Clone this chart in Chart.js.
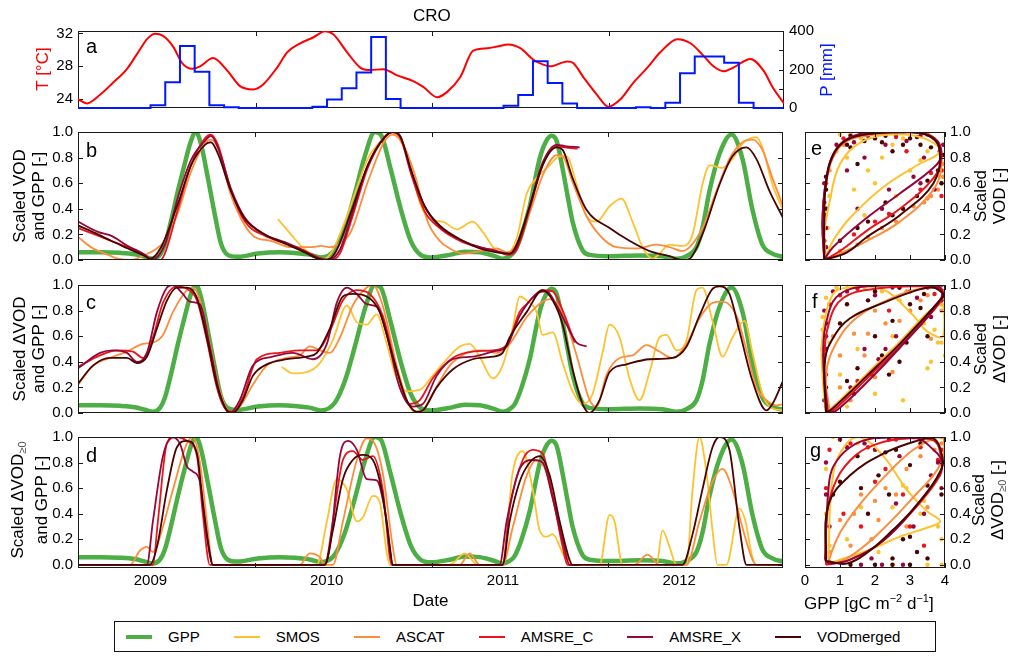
<!DOCTYPE html>
<html>
<head>
<meta charset="utf-8">
<script src="https://cdn.jsdelivr.net/npm/chart.js@4.4.1/dist/chart.umd.min.js"></script>
<style>
  body { margin: 0; background: #fff; }
  #fig { position: relative; width: 1011px; height: 658px; overflow: hidden; font-family: "Liberation Sans", Arial, sans-serif; color: #000; }
  canvas { position: absolute; }
  .txt { position: absolute; white-space: nowrap; line-height: 1; }
  .rot { position: absolute; white-space: nowrap; text-align: center; font-size: 17px; line-height: 19px; transform: translate(-50%, -50%) rotate(-90deg); }
  .rot sub { font-size: 11px; color: #555; vertical-align: -3px; }
  #legend { position: absolute; left: 114px; top: 621px; width: 809px; height: 29px; border: 1px solid #111; display: flex; align-items: center; padding-left: 11px; box-sizing: content-box; font-size: 15px; }
  #legend .it { display: flex; align-items: center; margin-right: 34px; }
  #legend .ln { width: 26px; margin-right: 16px; }
</style>
</head>
<body>
<div id="fig"></div>
<script>
// ---- data ----
const X_MIN = 2008.589, X_MAX = 2012.589;
const yearLabels = [2009, 2010, 2011, 2012];
const yearMarks = [2009.596, 2010.596, 2011.596];
const unitTicks = [0, 0.2, 0.4, 0.6, 0.8, 1.0];
const tTicks = [24, 28, 32];
const pTicks = [0, 100, 200, 300, 400];
const gppTicks = [0, 1, 2, 3, 4];
const names = ['GPP', 'SMOS', 'ASCAT', 'AMSRE_C', 'AMSRE_X', 'VODmerged'];

// panel a: temperature (degC) and monthly precipitation (mm)
const tData = [[2008.589,24.0],[2008.64,23.5],[2008.714,24.55],[2008.787,26.0],[2008.867,27.7],[2008.94,30.05],[2008.98,31.3],[2009.026,31.95],[2009.071,31.7],[2009.128,30.4],[2009.179,28.4],[2009.235,27.7],[2009.281,28.0],[2009.354,29.0],[2009.434,27.5],[2009.507,25.6],[2009.581,25.2],[2009.638,25.8],[2009.717,27.85],[2009.774,29.7],[2009.848,30.8],[2009.921,31.5],[2009.989,32.25],[2010.035,31.9],[2010.114,29.7],[2010.188,27.85],[2010.244,27.55],[2010.318,27.65],[2010.397,26.9],[2010.488,26.2],[2010.545,25.5],[2010.624,24.25],[2010.681,24.9],[2010.755,26.7],[2010.828,29.9],[2010.908,30.2],[2010.964,30.4],[2011.027,30.65],[2011.095,30.2],[2011.169,28.8],[2011.225,28.2],[2011.265,28.0],[2011.361,28.6],[2011.395,28.4],[2011.452,26.7],[2011.531,24.5],[2011.594,23.1],[2011.662,24.0],[2011.735,26.0],[2011.815,27.85],[2011.888,29.7],[2011.985,31.3],[2012.059,30.8],[2012.132,29.3],[2012.189,28.0],[2012.246,27.4],[2012.302,27.85],[2012.399,28.9],[2012.472,27.5],[2012.529,25.3],[2012.589,23.5]];
const pStart = 2008 + 7 / 12;
const pVals = [0,0,0,0,0, 14,134,322,188,14,4,0,0,0,0,0,7, 44,102,184,369,47,0,0,0,0,0,0,0, 12,68,243,130,24,0,0,0,0,4,0,27, 181,267,267,235,27,0,0,0];

// scaled GPP (same curve in b, c, d)
const gpp = [[2008.589,0.06],[2008.714,0.06],[2008.827,0.056],[2008.912,0.045],[2008.969,0.025],[2009.014,0.01],[2009.054,0.04],[2009.082,0.12],[2009.116,0.3],[2009.156,0.54],[2009.196,0.76],[2009.23,0.93],[2009.258,1.0],[2009.286,0.91],[2009.326,0.64],[2009.366,0.35],[2009.4,0.13],[2009.439,0.04],[2009.496,0.025],[2009.609,0.05],[2009.734,0.06],[2009.819,0.055],[2009.91,0.04],[2009.967,0.02],[2010.046,0.08],[2010.103,0.25],[2010.16,0.52],[2010.216,0.81],[2010.273,1.0],[2010.307,0.98],[2010.363,0.71],[2010.42,0.4],[2010.477,0.15],[2010.533,0.04],[2010.59,0.02],[2010.698,0.04],[2010.783,0.065],[2010.868,0.06],[2010.953,0.03],[2010.998,0.01],[2011.038,0.03],[2011.067,0.07],[2011.106,0.2],[2011.152,0.42],[2011.208,0.79],[2011.242,0.92],[2011.276,0.97],[2011.305,0.93],[2011.339,0.71],[2011.367,0.5],[2011.395,0.3],[2011.452,0.075],[2011.492,0.04],[2011.605,0.03],[2011.775,0.035],[2011.905,0.03],[2011.985,0.01],[2012.042,0.03],[2012.098,0.1],[2012.132,0.25],[2012.172,0.54],[2012.229,0.83],[2012.297,0.98],[2012.359,0.79],[2012.416,0.39],[2012.472,0.12],[2012.529,0.05],[2012.589,0.025]];

// panel b: scaled VOD
const smosB = [[2009.723,0.32],[2009.797,0.2],[2009.876,0.08],[2009.933,0.03],[2009.967,0.0],[2010.023,0.05],[2010.103,0.3],[2010.16,0.52],[2010.233,0.79],[2010.329,0.96],[2010.363,1.0],[2010.42,0.93],[2010.477,0.72],[2010.528,0.45],[2010.584,0.32],[2010.658,0.3],[2010.738,0.24],[2010.828,0.3],[2010.885,0.22],[2010.964,0.07],[2011.021,0.05],[2011.078,0.17],[2011.135,0.52],[2011.191,0.64],[2011.265,0.74],[2011.322,0.81],[2011.361,0.81],[2011.418,0.59],[2011.475,0.34],[2011.531,0.3],[2011.605,0.42],[2011.673,0.48],[2011.735,0.3],[2011.792,0.1],[2011.849,0.01],[2011.888,0.05],[2011.945,0.12],[2012.019,0.11],[2012.076,0.2],[2012.132,0.59],[2012.172,0.74],[2012.246,0.72],[2012.302,0.79],[2012.359,0.91],[2012.438,0.96],[2012.472,0.88],[2012.529,0.59],[2012.589,0.39]];
const ascatB = [[2008.589,0.18],[2008.663,0.1],[2008.742,0.05],[2008.816,0.01],[2008.889,0.0],[2008.969,0.04],[2009.026,0.08],[2009.082,0.15],[2009.156,0.37],[2009.23,0.69],[2009.309,0.91],[2009.343,0.94],[2009.383,0.87],[2009.456,0.51],[2009.536,0.27],[2009.592,0.18],[2009.683,0.15],[2009.797,0.1],[2009.91,0.1],[2009.967,0.11],[2010.023,0.1],[2010.063,0.12],[2010.137,0.22],[2010.233,0.61],[2010.329,0.93],[2010.375,0.98],[2010.431,0.91],[2010.499,0.67],[2010.573,0.3],[2010.641,0.15],[2010.698,0.09],[2010.772,0.05],[2010.868,0.07],[2010.964,0.09],[2011.021,0.06],[2011.078,0.12],[2011.152,0.37],[2011.225,0.66],[2011.305,0.82],[2011.339,0.81],[2011.395,0.61],[2011.475,0.34],[2011.565,0.17],[2011.645,0.1],[2011.758,0.09],[2011.871,0.12],[2011.945,0.1],[2012.019,0.07],[2012.059,0.1],[2012.132,0.25],[2012.212,0.54],[2012.285,0.79],[2012.359,0.92],[2012.416,0.94],[2012.472,0.86],[2012.529,0.64],[2012.589,0.42]];
const amsrecB = [[2008.589,0.25],[2008.702,0.19],[2008.776,0.15],[2008.872,0.1],[2008.969,0.04],[2009.014,0.0],[2009.054,0.0],[2009.082,0.05],[2009.156,0.4],[2009.23,0.74],[2009.309,0.95],[2009.343,0.98],[2009.383,0.9],[2009.456,0.55],[2009.536,0.3],[2009.649,0.19],[2009.762,0.13],[2009.876,0.07],[2009.95,0.02],[2010.018,0.0],[2010.075,0.05],[2010.142,0.32],[2010.233,0.72],[2010.329,0.96],[2010.375,1.0],[2010.42,0.95],[2010.477,0.68],[2010.556,0.38],[2010.641,0.25],[2010.772,0.14],[2010.868,0.1],[2010.964,0.07],[2011.027,0.04],[2011.078,0.08],[2011.152,0.4],[2011.225,0.74],[2011.305,0.89],[2011.35,0.88],[2011.424,0.87]];
const amsrexB = [[2008.589,0.3],[2008.702,0.22],[2008.776,0.19],[2008.872,0.11],[2008.969,0.04],[2009.003,0.0],[2009.082,0.12],[2009.156,0.49],[2009.23,0.78],[2009.309,0.93],[2009.343,0.97],[2009.383,0.88],[2009.456,0.56],[2009.536,0.33],[2009.649,0.2],[2009.762,0.14],[2009.876,0.07],[2009.961,0.01],[2010.001,0.0],[2010.075,0.08],[2010.142,0.35],[2010.233,0.74],[2010.329,0.96],[2010.375,1.0],[2010.42,0.96],[2010.477,0.7],[2010.556,0.42],[2010.641,0.26],[2010.772,0.15],[2010.868,0.1],[2010.964,0.07],[2011.038,0.05],[2011.078,0.1],[2011.152,0.42],[2011.225,0.76],[2011.305,0.9],[2011.35,0.89],[2011.435,0.88]];
const vodB = [[2008.589,0.27],[2008.702,0.2],[2008.776,0.15],[2008.872,0.09],[2008.969,0.03],[2008.997,0.01],[2009.06,0.1],[2009.156,0.44],[2009.23,0.74],[2009.309,0.9],[2009.343,0.92],[2009.383,0.83],[2009.456,0.54],[2009.536,0.32],[2009.649,0.2],[2009.762,0.13],[2009.876,0.06],[2009.95,0.01],[2009.989,0.0],[2010.046,0.05],[2010.137,0.37],[2010.233,0.74],[2010.329,0.96],[2010.375,1.0],[2010.42,0.96],[2010.477,0.71],[2010.556,0.42],[2010.641,0.27],[2010.772,0.15],[2010.868,0.09],[2010.964,0.06],[2011.038,0.05],[2011.078,0.12],[2011.152,0.42],[2011.225,0.74],[2011.305,0.88],[2011.339,0.86],[2011.395,0.64],[2011.475,0.39],[2011.605,0.25],[2011.718,0.15],[2011.832,0.07],[2011.945,0.03],[2012.019,0.0],[2012.059,0.01],[2012.132,0.2],[2012.229,0.59],[2012.302,0.81],[2012.382,0.88],[2012.438,0.79],[2012.512,0.54],[2012.589,0.33]];

// panel c: scaled delta VOD
const smosC = [[2009.745,0.36],[2009.808,0.31],[2009.887,0.32],[2009.961,0.39],[2010.035,0.57],[2010.114,0.84],[2010.171,0.71],[2010.227,0.69],[2010.284,0.77],[2010.341,0.54],[2010.397,0.27],[2010.454,0.17],[2010.528,0.18],[2010.601,0.29],[2010.681,0.42],[2010.755,0.52],[2010.811,0.54],[2010.868,0.44],[2010.942,0.27],[2010.998,0.37],[2011.055,0.66],[2011.095,0.91],[2011.135,0.88],[2011.191,0.79],[2011.225,0.61],[2011.282,0.63],[2011.339,0.39],[2011.395,0.17],[2011.452,0.07],[2011.509,0.15],[2011.565,0.47],[2011.605,0.69],[2011.662,0.59],[2011.718,0.27],[2011.775,0.1],[2011.832,0.32],[2011.888,0.59],[2011.928,0.61],[2011.985,0.49],[2012.042,0.57],[2012.098,0.96],[2012.132,0.98],[2012.189,0.72],[2012.246,0.44],[2012.302,0.59],[2012.37,0.72],[2012.416,0.47],[2012.472,0.15],[2012.512,0.05],[2012.589,0.02]];
const ascatC = [[2008.589,0.22],[2008.674,0.37],[2008.77,0.43],[2008.867,0.48],[2008.957,0.54],[2009.014,0.55],[2009.071,0.61],[2009.128,0.79],[2009.207,0.96],[2009.241,0.98],[2009.281,0.88],[2009.337,0.54],[2009.394,0.17],[2009.451,0.01],[2009.507,0.05],[2009.581,0.22],[2009.66,0.37],[2009.774,0.43],[2009.848,0.45],[2009.904,0.52],[2009.961,0.49],[2010.018,0.47],[2010.075,0.59],[2010.148,0.84],[2010.227,0.98],[2010.262,1.0],[2010.318,0.84],[2010.397,0.37],[2010.471,0.05],[2010.528,0.0],[2010.601,0.15],[2010.698,0.37],[2010.794,0.47],[2010.885,0.49],[2010.964,0.47],[2011.038,0.54],[2011.135,0.75],[2011.225,0.87],[2011.265,0.89],[2011.339,0.78],[2011.418,0.45],[2011.492,0.1],[2011.531,0.05],[2011.588,0.3],[2011.662,0.43],[2011.735,0.45],[2011.815,0.53],[2011.888,0.48],[2011.962,0.43],[2012.042,0.54],[2012.115,0.74],[2012.189,0.86],[2012.246,0.87],[2012.325,0.76],[2012.382,0.49],[2012.438,0.2],[2012.495,0.1],[2012.551,0.06],[2012.589,0.07]];
const amsrecC = [[2008.589,0.36],[2008.714,0.45],[2008.81,0.49],[2008.901,0.48],[2008.957,0.43],[2009.014,0.59],[2009.071,0.86],[2009.15,0.99],[2009.207,0.97],[2009.264,0.88],[2009.32,0.57],[2009.377,0.2],[2009.434,0.02],[2009.468,0.01],[2009.524,0.12],[2009.604,0.42],[2009.734,0.47],[2009.848,0.49],[2009.944,0.49],[2010.018,0.64],[2010.092,0.88],[2010.171,0.96],[2010.244,0.93],[2010.318,0.76],[2010.397,0.34],[2010.471,0.07],[2010.528,0.1],[2010.601,0.27],[2010.715,0.43],[2010.828,0.48],[2010.942,0.49],[2011.021,0.53],[2011.095,0.79],[2011.135,0.85],[2011.225,0.96],[2011.282,0.95],[2011.339,0.8],[2011.407,0.55]];
const amsrexC = [[2008.589,0.35],[2008.714,0.47],[2008.787,0.49],[2008.867,0.47],[2008.923,0.4],[2008.98,0.47],[2009.037,0.79],[2009.094,0.98],[2009.128,1.0],[2009.184,0.93],[2009.224,0.87],[2009.281,0.85],[2009.337,0.52],[2009.394,0.15],[2009.451,0.0],[2009.507,0.1],[2009.581,0.37],[2009.694,0.44],[2009.808,0.47],[2009.921,0.42],[2010.001,0.54],[2010.057,0.86],[2010.114,0.98],[2010.171,0.93],[2010.227,0.85],[2010.284,0.83],[2010.341,0.61],[2010.414,0.2],[2010.488,0.05],[2010.545,0.07],[2010.624,0.29],[2010.715,0.42],[2010.828,0.44],[2010.942,0.48],[2011.021,0.52],[2011.095,0.76],[2011.191,0.93],[2011.248,0.95],[2011.305,0.84],[2011.361,0.69],[2011.418,0.55],[2011.475,0.52]];
const vodC = [[2008.589,0.23],[2008.674,0.37],[2008.77,0.43],[2008.867,0.43],[2008.923,0.39],[2008.98,0.44],[2009.037,0.66],[2009.094,0.88],[2009.15,0.98],[2009.207,0.98],[2009.264,0.9],[2009.32,0.59],[2009.377,0.22],[2009.434,0.02],[2009.468,0.0],[2009.524,0.1],[2009.581,0.29],[2009.66,0.38],[2009.774,0.42],[2009.887,0.44],[2009.944,0.47],[2010.018,0.66],[2010.092,0.91],[2010.148,0.93],[2010.227,0.91],[2010.301,0.79],[2010.375,0.44],[2010.454,0.1],[2010.511,0.01],[2010.545,0.02],[2010.624,0.2],[2010.715,0.34],[2010.828,0.42],[2010.942,0.44],[2010.998,0.47],[2011.038,0.59],[2011.135,0.79],[2011.225,0.96],[2011.282,0.88],[2011.339,0.69],[2011.395,0.34],[2011.452,0.07],[2011.492,0.0],[2011.548,0.1],[2011.605,0.32],[2011.701,0.38],[2011.832,0.42],[2011.962,0.43],[2012.042,0.52],[2012.115,0.76],[2012.189,0.97],[2012.229,0.99],[2012.285,0.93],[2012.342,0.64],[2012.416,0.25],[2012.495,0.02],[2012.529,0.07],[2012.589,0.25]];

// panel d: scaled positive delta VOD
const smosD = [[2009.723,0],[2009.944,0],[2010.001,0.34],[2010.057,0.67],[2010.114,0.59],[2010.171,0.34],[2010.205,0.37],[2010.262,0.54],[2010.301,0.49],[2010.341,0.09],[2010.358,0],[2010.698,0],[2010.783,0.09],[2010.857,0],[2010.998,0],[2011.055,0.72],[2011.112,0.89],[2011.169,0.59],[2011.208,0.27],[2011.248,0.22],[2011.282,0.24],[2011.339,0.09],[2011.378,0],[2011.548,0],[2011.605,0.39],[2011.633,0.34],[2011.679,0],[2011.871,0],[2011.905,0.27],[2011.945,0.14],[2011.985,0],[2012.042,0],[2012.076,0.59],[2012.115,1.0],[2012.155,0.72],[2012.189,0.27],[2012.217,0],[2012.268,0],[2012.342,0.44],[2012.376,0.34],[2012.41,0.09],[2012.433,0],[2012.589,0]];
const ascatD = [[2008.589,0],[2008.884,0],[2008.94,0.11],[2008.98,0.14],[2009.014,0.1],[2009.054,0.22],[2009.128,0.59],[2009.207,0.95],[2009.241,1.0],[2009.281,0.8],[2009.32,0.34],[2009.354,0],[2009.848,0],[2009.904,0.09],[2009.961,0.06],[2009.989,0],[2010.035,0],[2010.092,0.34],[2010.171,0.82],[2010.227,0.99],[2010.262,0.97],[2010.318,0.72],[2010.375,0.14],[2010.397,0],[2010.755,0],[2010.811,0.09],[2010.868,0],[2010.998,0],[2011.055,0.29],[2011.135,0.7],[2011.191,0.82],[2011.248,0.72],[2011.305,0.39],[2011.361,0.09],[2011.39,0],[2011.747,0],[2011.82,0.08],[2011.888,0],[2012.042,0],[2012.115,0.34],[2012.189,0.65],[2012.246,0.75],[2012.302,0.59],[2012.359,0.29],[2012.416,0.04],[2012.438,0],[2012.589,0]];
const amsrecD = [[2008.589,0],[2009.014,0],[2009.043,0.35],[2009.094,0.95],[2009.15,1.0],[2009.207,0.97],[2009.264,0.85],[2009.298,0.39],[2009.337,0],[2009.989,0],[2010.035,0.34],[2010.092,0.82],[2010.148,0.89],[2010.205,0.82],[2010.262,0.85],[2010.318,0.59],[2010.369,0],[2010.998,0],[2011.038,0.44],[2011.112,0.82],[2011.169,0.9],[2011.225,0.87],[2011.282,0.54],[2011.339,0.14],[2011.367,0],[2011.424,0]];
const amsrexD = [[2008.589,0],[2008.98,0],[2009.014,0.34],[2009.071,0.85],[2009.122,1.0],[2009.167,0.95],[2009.207,0.77],[2009.241,0.73],[2009.281,0.65],[2009.32,0.22],[2009.354,0],[2009.989,0],[2010.018,0.14],[2010.075,0.85],[2010.12,0.97],[2010.171,0.9],[2010.227,0.67],[2010.284,0.66],[2010.341,0.34],[2010.375,0],[2010.981,0],[2011.021,0.34],[2011.095,0.75],[2011.169,0.82],[2011.225,0.8],[2011.282,0.52],[2011.339,0.19],[2011.378,0],[2011.435,0]];
const vodD = [[2008.589,0],[2008.997,0],[2009.037,0.14],[2009.094,0.59],[2009.15,0.92],[2009.207,0.97],[2009.264,0.87],[2009.298,0.47],[2009.337,0.09],[2009.354,0],[2009.989,0],[2010.035,0.27],[2010.092,0.67],[2010.148,0.82],[2010.205,0.86],[2010.262,0.82],[2010.318,0.54],[2010.358,0.14],[2010.375,0],[2010.998,0],[2011.038,0.34],[2011.095,0.65],[2011.152,0.8],[2011.208,0.85],[2011.265,0.7],[2011.322,0.34],[2011.378,0.04],[2011.395,0],[2012.019,0],[2012.076,0.24],[2012.132,0.59],[2012.189,0.92],[2012.229,1.0],[2012.285,0.9],[2012.342,0.29],[2012.382,0],[2012.589,0]];

// panels e-g: GPP (gC m-2 d-1) against scaled VOD, smoothed loops and samples
const loopE = {
  SMOS: [[0.6,0.02],[0.55,0.2],[0.7,0.45],[1.0,0.75],[1.6,0.92],[2.5,0.98],[3.4,0.95],[3.85,0.85],[3.2,0.74],[2.24,0.57],[1.29,0.33],[0.8,0.15],[0.6,0.02]],
  ASCAT: [[0.6,0],[0.5,0.3],[0.6,0.6],[0.8,0.8],[1.2,0.93],[2,0.98],[3,1.0],[3.7,0.95],[3.9,0.75],[3.67,0.55],[2.71,0.3],[1.77,0.15],[1.0,0.05],[0.6,0]],
  AMSRE_C: [[0.55,0],[0.5,0.3],[0.6,0.6],[0.85,0.84],[1.3,0.95],[2,0.99],[3,1.0],[3.7,0.95],[3.9,0.8],[3.67,0.64],[2.71,0.4],[1.77,0.23],[1.0,0.07],[0.55,0]],
  AMSRE_X: [[0.55,0],[0.5,0.3],[0.6,0.62],[0.85,0.85],[1.3,0.96],[2,1.0],[3,1.0],[3.7,0.95],[3.9,0.82],[3.67,0.72],[2.71,0.52],[1.77,0.33],[0.8,0.1],[0.55,0]],
  VODmerged: [[0.55,0],[0.55,0.3],[0.6,0.6],[0.8,0.82],[1.2,0.94],[2,0.99],[3,1.0],[3.6,0.96],[3.85,0.85],[3.67,0.6],[2.71,0.35],[1.77,0.18],[1.2,0.06],[0.55,0]]
};
const dotsE = {
  SMOS: [[1.0,0.98],[1.6,0.95],[2.5,0.9],[3.5,0.85],[2.2,0.8],[1.4,0.55],[2.0,0.6],[3.0,0.7],[0.6,0.1],[0.7,0.5],[3.9,0.75],[2.6,0.5],[0.65,0.25],[0.9,0.85],[1.2,0.8],[1.8,0.7],[2.8,0.95],[3.3,0.78],[3.85,0.65],[3.95,0.7],[1.7,0.35]],
  ASCAT: [[0.7,0.7],[1.3,0.98],[2.8,1.0],[3.95,0.65],[3.8,0.55],[3.4,0.45],[2.6,0.3],[1.8,0.18],[1.0,0.07],[0.55,0.15],[3.95,0.75],[3.6,0.5],[0.55,0.35],[0.6,0.55],[1.1,0.9],[3.85,0.7],[3.9,0.6],[3.5,0.48],[2.2,0.25],[3.1,0.42],[1.5,0.12]],
  AMSRE_C: [[1.1,0.95],[2.2,1.0],[3.5,0.98],[3.9,0.7],[3.3,0.55],[2.0,0.3],[0.58,0.35],[1.4,0.2],[3.9,0.5],[2.9,0.85],[1.6,0.99],[2.6,0.96],[0.6,0.6],[0.55,0.15],[2.4,0.36],[3.6,0.68]],
  AMSRE_X: [[0.9,0.9],[1.7,0.8],[2.6,0.98],[3.4,0.8],[3.7,0.55],[2.4,0.55],[1.5,0.4],[0.55,0.45],[0.6,0.1],[3.95,0.9],[3.1,0.65],[1.2,0.7],[1.4,0.92],[1.8,0.97],[2.3,0.9],[2.9,0.93],[3.3,0.97],[0.55,0.6],[0.6,0.25],[2.2,0.4],[3.3,0.6],[3.85,0.85]],
  VODmerged: [[1.2,0.9],[1.5,0.75],[2.0,0.95],[2.5,0.85],[3.0,0.95],[3.3,0.9],[3.9,0.6],[3.8,0.7],[2.3,0.45],[1.8,0.3],[0.6,0.55],[0.55,0.25],[3.2,0.5],[2.8,0.4],[1.0,0.15],[3.95,0.82],[2.2,0.92],[1.3,0.97],[1.3,0.88],[1.7,0.93],[2.3,0.97],[2.8,0.9],[3.2,0.96],[3.6,0.88],[0.6,0.65],[0.62,0.4],[1.5,0.25],[2.5,0.35],[3.5,0.62]]
};
const loopF = {
  SMOS: [[0.6,0.0],[0.5,0.3],[0.5,0.6],[0.8,0.93],[1.29,0.98],[2.2,0.97],[3.1,0.76],[3.48,0.64],[3.95,0.6],[3.9,0.85],[2.5,0.5],[1.0,0.1],[0.6,0.0]],
  ASCAT: [[0.7,0.02],[0.6,0.3],[0.9,0.55],[1.5,0.75],[2.5,0.9],[3.3,0.97],[3.9,0.97],[3.9,0.9],[3.0,0.62],[2.0,0.36],[1.2,0.14],[0.7,0.02]],
  AMSRE_C: [[0.6,0.0],[0.55,0.4],[0.7,0.72],[1.1,0.9],[2.0,0.97],[3.2,0.99],[3.9,0.96],[3.9,0.88],[2.71,0.52],[1.77,0.27],[0.85,0.03],[0.6,0.0]],
  AMSRE_X: [[0.65,0.0],[0.52,0.46],[0.67,0.78],[1.0,0.93],[1.77,0.99],[3.2,1.0],[3.86,0.98],[3.86,0.88],[2.71,0.51],[1.77,0.24],[0.9,0.02],[0.65,0.0]],
  VODmerged: [[0.6,0.0],[0.57,0.41],[0.81,0.59],[1.29,0.74],[2.24,0.86],[3.2,0.96],[3.67,0.98],[3.95,0.93],[3.95,0.91],[2.71,0.54],[1.77,0.29],[0.81,0.04],[0.6,0.0]]
};
const dotsF = {
  SMOS: [[0.5,0.65],[0.6,0.9],[1.2,1.0],[2.2,0.95],[3.0,0.8],[3.8,0.55],[4.0,0.45],[3.5,0.35],[2.5,0.6],[1.0,0.3],[2.0,0.15],[3.7,0.65],[0.55,0.4],[0.5,0.75],[0.7,0.55],[0.9,0.98],[1.7,0.98],[2.7,0.88],[3.4,0.7],[3.9,0.55],[3.6,0.4],[1.5,0.5],[2.8,0.1],[1.2,0.05]],
  ASCAT: [[0.8,0.6],[1.4,0.62],[2.0,0.8],[2.7,0.72],[3.3,0.88],[3.9,0.8],[1.0,0.2],[2.5,0.32],[3.6,0.58],[1.7,0.45],[0.6,0.05],[2.9,0.95],[0.5,0.5],[1.0,0.45],[1.8,0.62],[2.3,0.7],[3.0,0.8],[3.5,0.92],[2.0,0.28],[1.3,0.1],[3.9,0.85]],
  AMSRE_C: [[0.7,0.85],[1.5,0.97],[2.7,0.98],[3.7,0.93],[3.3,0.7],[1.9,0.3],[0.6,0.3],[2.4,0.8],[0.55,0.6],[1.0,0.92],[2.0,0.99],[3.0,0.95],[3.9,1.0],[2.8,0.55],[1.5,0.25]],
  AMSRE_X: [[0.6,0.5],[1.2,0.95],[2.0,0.92],[3.2,0.9],[3.9,0.88],[2.6,0.6],[1.7,0.5],[3.6,0.75],[0.55,0.1],[2.1,0.42],[0.55,0.8],[0.8,0.95],[1.5,1.0],[2.5,0.98],[3.5,0.98],[3.95,0.95],[2.3,0.5],[1.3,0.2],[0.6,0.6]],
  VODmerged: [[1.0,0.7],[1.8,0.88],[2.5,0.72],[3.0,0.85],[3.5,0.6],[2.2,0.45],[1.5,0.35],[3.8,0.98],[0.6,0.2],[2.9,0.55],[1.2,0.25],[2.4,0.3],[0.55,0.45],[0.6,0.7],[1.2,0.85],[2.0,0.95],[2.7,0.98],[3.4,0.93],[2.0,0.6],[2.7,0.4],[1.4,0.15],[3.3,0.82]]
};
const loopG = {
  SMOS: [[0.67,0.01],[0.67,0.09],[0.81,0.72],[1.19,0.95],[1.57,1.0],[2.24,0.85],[2.9,0.59],[3.48,0.42],[3.86,0.34],[3.48,0.29],[2.71,0.22],[1.77,0.11],[1.0,0.04],[0.67,0.01]],
  ASCAT: [[0.7,0.0],[0.7,0.05],[1.0,0.25],[1.5,0.45],[2.24,0.68],[3.0,0.88],[3.6,0.98],[3.95,1.0],[3.9,0.8],[3.0,0.5],[2.0,0.22],[1.2,0.05],[0.7,0.0]],
  AMSRE_C: [[0.6,0.0],[0.6,0.3],[0.8,0.6],[1.3,0.82],[2.0,0.94],[3.0,0.99],[3.7,0.97],[3.9,0.8],[3.86,0.7],[3.2,0.46],[2.24,0.19],[1.29,0.04],[0.6,0.0]],
  AMSRE_X: [[0.57,0.04],[0.67,0.59],[0.81,0.77],[1.29,0.92],[1.95,0.99],[3.2,0.99],[3.67,0.9],[3.9,0.82],[3.86,0.72],[3.2,0.47],[2.24,0.19],[1.29,0.04],[0.7,0.01],[0.57,0.04]],
  VODmerged: [[0.6,0.03],[0.67,0.47],[1.29,0.7],[2.24,0.87],[3.2,0.97],[3.67,0.99],[3.9,0.87],[3.9,0.75],[3.2,0.47],[2.5,0.27],[1.8,0.1],[1.2,0.01],[0.6,0.03]]
};
const dotsG = {
  SMOS: [[0.6,0.4],[0.8,1.0],[1.5,0.95],[2.5,0.45],[3.3,0.4],[3.8,0.3],[3.0,0.0],[3.5,0.0],[2.1,0.1],[1.2,0.2],[3.9,0.85],[2.9,0.6],[0.6,0.75],[1.0,0.98],[2.0,0.9],[2.8,0.62],[3.4,0.5],[3.9,0.2],[2.5,0.0],[3.9,0.0],[1.6,0.45],[0.7,0.15]],
  ASCAT: [[1.0,0.35],[1.6,0.55],[2.3,0.6],[2.9,0.75],[3.7,0.9],[3.9,1.0],[2.1,0.35],[1.3,0.15],[3.5,0.45],[0.7,0.02],[0.7,0.1],[1.4,0.4],[2.0,0.5],[2.6,0.55],[3.3,0.85],[3.9,0.95],[2.9,0.3],[1.9,0.2]],
  AMSRE_C: [[0.7,0.9],[1.3,0.95],[2.6,0.98],[3.3,0.92],[3.8,0.82],[2.0,0.65],[3.4,0.15],[1.1,0.4],[2.8,0.55],[0.6,0.6],[1.8,0.92],[3.0,1.0],[3.9,0.9],[2.3,0.75],[1.6,0.3],[3.0,0.3]],
  AMSRE_X: [[0.6,0.8],[1.0,0.98],[2.0,0.9],[2.7,0.85],[3.6,0.7],[3.9,0.6],[3.1,0.3],[2.2,0.0],[1.6,0.0],[0.7,0.3],[2.6,0.48],[1.2,0.92],[1.7,0.95],[2.4,0.98],[3.3,0.98],[3.8,0.8],[0.6,0.55],[2.8,0.0],[1.9,0.05],[3.4,0.4]],
  VODmerged: [[0.8,0.55],[1.5,0.85],[2.3,0.88],[3.0,0.78],[3.5,0.62],[2.8,0.2],[3.2,0.1],[2.0,0.0],[1.3,0.0],[2.5,0.05],[3.9,0.55],[1.8,0.4],[3.0,0.22],[2.5,0.0],[3.0,0.0],[3.5,0.05],[1.0,0.65],[1.6,0.6],[2.1,0.7],[2.6,0.9],[3.3,0.95],[3.9,0.8],[2.4,0.55]]
};

// ---- styles ----
const colors = { GPP: '#4cae45', SMOS: '#fec22f', ASCAT: '#fd8d3c', AMSRE_C: '#e8161c', AMSRE_X: '#96063a', VODmerged: '#4a0400' };
const drawOrder = { GPP: 6, SMOS: 5, ASCAT: 4, AMSRE_C: 3, AMSRE_X: 2, VODmerged: 1 };

Chart.defaults.font.family = "'Liberation Sans', Arial, sans-serif";
Chart.defaults.font.size = 15;
Chart.defaults.color = '#000';
Chart.defaults.animation = false;
Chart.defaults.responsive = false;

// box around plot area + inward ticks (matplotlib look)
function drawFrame(chart, o) {
  const ctx = chart.ctx, a = chart.chartArea;
  ctx.save();
  ctx.strokeStyle = '#1a1a1a';
  ctx.lineWidth = 1;
  (o.marks || []).forEach(m => {
    const s = chart.scales[m.axis];
    m.values.forEach(v => {
      const p = Math.round(s.getPixelForValue(v)) + 0.5;
      ctx.beginPath();
      if (s.isHorizontal()) {
        ctx.moveTo(p, a.bottom); ctx.lineTo(p, a.bottom - 5);
        ctx.moveTo(p, a.top); ctx.lineTo(p, a.top + 5);
      } else {
        if (m.side !== 'right') { ctx.moveTo(a.left, p); ctx.lineTo(a.left + 5, p); }
        if (m.side !== 'left') { ctx.moveTo(a.right, p); ctx.lineTo(a.right - 5, p); }
      }
      ctx.stroke();
    });
  });
  ctx.strokeRect(a.left + 0.5, a.top + 0.5, a.right - a.left - 1, a.bottom - a.top - 1);
  ctx.restore();
}
const framePlugin = {
  id: 'frame',
  beforeDatasetsDraw(chart, args, o) { if (o.under) drawFrame(chart, o); },
  afterDraw(chart, args, o) { if (!o.under) drawFrame(chart, o); }
};

const fig = document.getElementById('fig');
function canvasAt(left, top, w, h) {
  const c = document.createElement('canvas');
  c.width = w; c.height = h;
  c.style.left = left + 'px'; c.style.top = top + 'px';
  c.style.width = w + 'px'; c.style.height = h + 'px';
  fig.appendChild(c);
  return c;
}
function text(html, x, y, style) {
  const d = document.createElement('div');
  d.className = 'txt';
  d.innerHTML = html;
  d.style.left = x + 'px'; d.style.top = y + 'px';
  Object.assign(d.style, style || {});
  fig.appendChild(d);
  return d;
}
function rotText(html, cx, cy, color) {
  const d = document.createElement('div');
  d.className = 'rot';
  d.innerHTML = html;
  d.style.left = cx + 'px'; d.style.top = cy + 'px';
  if (color) d.style.color = color;
  fig.appendChild(d);
}

function valueAxis(pos, min, max, ticks, width, fmt) {
  return {
    type: 'linear', position: pos, min: min, max: max,
    grid: { display: false, drawTicks: false }, border: { display: false },
    afterBuildTicks: s => { s.ticks = ticks.map(v => ({ value: v })); },
    afterFit: s => { s.width = width; },
    ticks: { padding: 5, callback: fmt }
  };
}
function timeAxis(showLabels, height) {
  return {
    type: 'linear', min: X_MIN, max: X_MAX, display: showLabels,
    grid: { display: false, drawTicks: false }, border: { display: false },
    afterBuildTicks: s => { s.ticks = yearLabels.map(v => ({ value: v })); },
    afterFit: s => { s.height = height; },
    ticks: { padding: 4, maxRotation: 0, autoSkip: false, callback: v => String(v) },
    title: { display: showLabels, text: 'Date', font: { size: 17 }, padding: { top: 0, bottom: 1 } }
  };
}
const f1 = v => v.toFixed(1);

function lineSet(name, data) {
  return {
    label: name, data: data, borderColor: colors[name],
    borderWidth: name === 'GPP' ? 4.5 : 1.8, pointRadius: 0,
    cubicInterpolationMode: 'monotone', fill: false, order: drawOrder[name]
  };
}

// ---- panel a ----
new Chart(canvasAt(0, 17, 839, 105), {
  type: 'line',
  data: { datasets: [
    { label: 'T', data: tData, yAxisID: 'y', borderColor: '#ff0000', borderWidth: 2, pointRadius: 0, cubicInterpolationMode: 'monotone', order: 2 },
    { label: 'P', data: pVals.map((v, i) => [pStart + i / 12, v]), yAxisID: 'y2', borderColor: '#0018ff', borderWidth: 2, pointRadius: 0, stepped: true, clip: { left: 0, right: 0, top: 0, bottom: 3 }, order: 1 }
  ] },
  options: {
    layout: { padding: { top: 10, right: 0, bottom: 10, left: 0 }, autoPadding: false },
    plugins: { legend: { display: false }, tooltip: { enabled: false },
      frame: { under: true, marks: [{ axis: 'x', values: yearMarks }, { axis: 'y', values: tTicks, side: 'left' }, { axis: 'y2', values: pTicks, side: 'right' }] } },
    scales: {
      x: timeAxis(false, 0),
      y: valueAxis('left', 22.94, 32.29, tTicks, 78, v => String(v)),
      y2: valueAxis('right', 0, 400, pTicks, 55, v => String(v))
    }
  },
  plugins: [framePlugin]
});

// ---- panels b, c, d ----
function tsPanel(top, h, sets, ymin, bottomAxis) {
  const bottom = bottomAxis ? 45 : 0;
  const datasets = [lineSet('GPP', gpp)];
  ['SMOS', 'ASCAT', 'AMSRE_C', 'AMSRE_X', 'VODmerged'].forEach(n => datasets.push(lineSet(n, sets[n])));
  new Chart(canvasAt(0, top - 10, 800, 10 + h + (bottomAxis ? bottom : 10)), {
    type: 'line',
    data: { datasets: datasets },
    options: {
      layout: { padding: { top: 10, right: 17, bottom: bottomAxis ? 0 : 10, left: 0 }, autoPadding: false },
      plugins: { legend: { display: false }, tooltip: { enabled: false },
        frame: { marks: [{ axis: 'x', values: yearMarks }, { axis: 'y', values: unitTicks }] } },
      scales: {
        x: timeAxis(bottomAxis, bottom),
        y: valueAxis('left', ymin, 1, unitTicks, 78, f1)
      }
    },
    plugins: [framePlugin]
  });
}
tsPanel(128, 136, { SMOS: smosB, ASCAT: ascatB, AMSRE_C: amsrecB, AMSRE_X: amsrexB, VODmerged: vodB }, 0, false);
tsPanel(281, 136, { SMOS: smosC, ASCAT: ascatC, AMSRE_C: amsrecC, AMSRE_X: amsrexC, VODmerged: vodC }, 0, false);
tsPanel(433, 135, { SMOS: smosD, ASCAT: ascatD, AMSRE_C: amsrecD, AMSRE_X: amsrexD, VODmerged: vodD }, -0.025, true);

// ---- panels e, f, g ----
function scatterPanel(top, h, loops, dots, ymin, bottomAxis) {
  const vods = ['SMOS', 'ASCAT', 'AMSRE_C', 'AMSRE_X', 'VODmerged'];
  const datasets = [];
  vods.forEach(n => datasets.push({ label: n + ' pts', data: dots[n], backgroundColor: colors[n], borderWidth: 0, pointRadius: 2.2, order: 10 + drawOrder[n] }));
  vods.forEach(n => datasets.push({ label: n, data: loops[n], borderColor: colors[n], borderWidth: 2, pointRadius: 0, showLine: true, tension: 0.4, order: drawOrder[n] }));
  const bottom = bottomAxis ? 30 : 0;
  new Chart(canvasAt(795, top - 10, 190, 10 + h + (bottomAxis ? bottom : 10)), {
    type: 'scatter',
    data: { datasets: datasets },
    options: {
      layout: { padding: { top: 10, right: 0, bottom: bottomAxis ? 0 : 10, left: 10 }, autoPadding: false },
      plugins: { legend: { display: false }, tooltip: { enabled: false },
        frame: { marks: [{ axis: 'x', values: gppTicks }, { axis: 'y', values: unitTicks }] } },
      scales: {
        x: { type: 'linear', min: 0, max: 4, display: bottomAxis,
          grid: { display: false, drawTicks: false }, border: { display: false },
          afterBuildTicks: s => { s.ticks = gppTicks.map(v => ({ value: v })); },
          afterFit: s => { s.height = bottom; },
          ticks: { padding: 4, maxRotation: 0, autoSkip: false, callback: v => String(v) } },
        y: valueAxis('right', ymin, 1, unitTicks, 40, f1)
      }
    },
    plugins: [framePlugin]
  });
}
scatterPanel(128, 136, loopE, dotsE, 0, false);
scatterPanel(281, 136, loopF, dotsF, 0, false);
scatterPanel(433, 135, loopG, dotsG, -0.025, true);

// ---- labels ----
text('CRO', 413, 7, { fontSize: '17px' });
rotText('T [°C]', 42, 69, '#ff0000');
rotText('P [mm]', 826, 70, '#0018ff');
rotText('Scaled VOD<br>and GPP [-]', 29, 196);
rotText('Scaled &Delta;VOD<br>and GPP [-]', 29, 349);
rotText('Scaled &Delta;VOD<sub>&ge;0</sub><br>and GPP [-]', 29, 500);
rotText('Scaled<br>VOD [-]', 990, 196);
rotText('Scaled<br>&Delta;VOD [-]', 990, 349);
rotText('Scaled<br>&Delta;VOD<sub>&ge;0</sub> [-]', 990, 500);
text('GPP [gC m<sup style="font-size:11px">&minus;2</sup> d<sup style="font-size:11px">&minus;1</sup>]', 804, 593, { fontSize: '17px' });
[['a', 86, 36], ['b', 86, 140], ['c', 86, 292], ['d', 86, 445], ['e', 811, 138], ['f', 812, 291], ['g', 810, 440]]
  .forEach(([l, x, y]) => text(l, x, y, { fontSize: '20px', lineHeight: '20px' }));

// ---- legend ----
const legend = document.createElement('div');
legend.id = 'legend';
names.forEach(n => {
  const it = document.createElement('div');
  it.className = 'it';
  it.innerHTML = '<span class="ln" style="border-top:' + (n === 'GPP' ? 4 : 2) + 'px solid ' + colors[n] + '"></span><span>' + n + '</span>';
  legend.appendChild(it);
});
fig.appendChild(legend);
</script>
</body>
</html>
